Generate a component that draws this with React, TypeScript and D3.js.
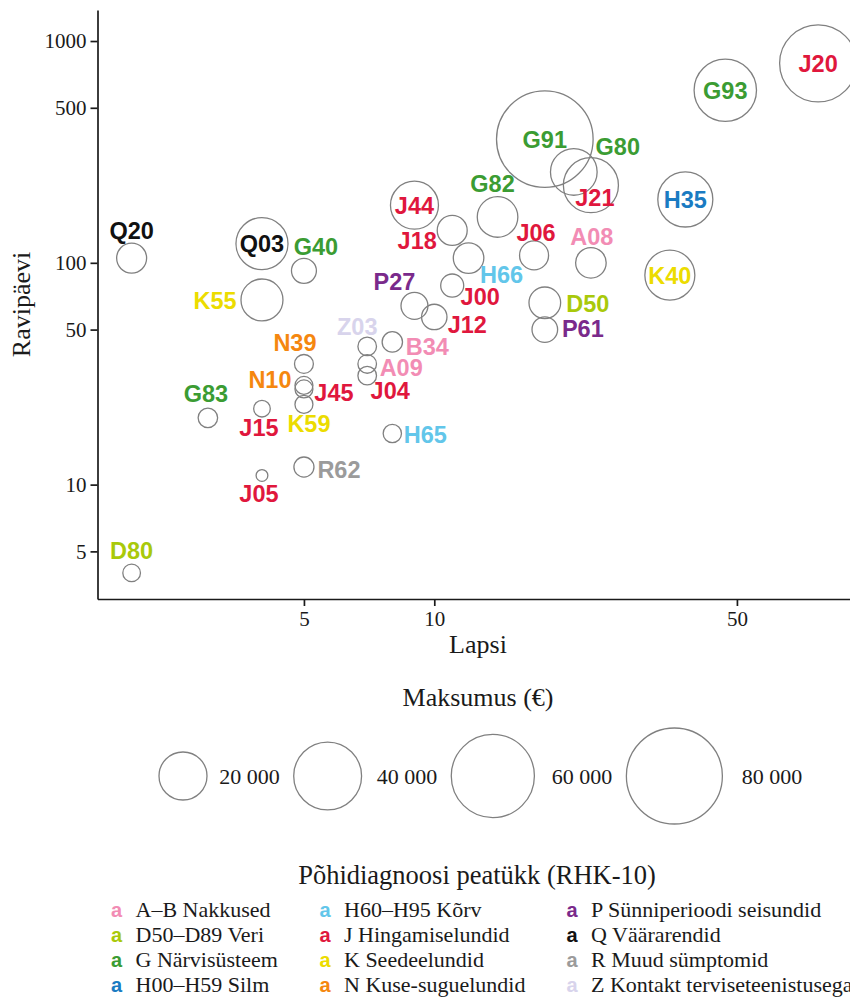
import React, { useEffect, useRef } from 'react';
import * as d3 from 'd3';

// diagnoosid (RHK-10 kood), lapsed, ravipäevad, maksumus
const codes = ['J20', 'G93', 'G91', 'G80', 'J21', 'H35', 'J44', 'G82', 'Q03', 'J18', 'J06', 'Q20',
  'A08', 'H66', 'G40', 'K40', 'K55', 'J00', 'D50', 'P27', 'J12', 'P61', 'B34', 'Z03',
  'A09', 'N39', 'J04', 'N10', 'J45', 'K59', 'J15', 'G83', 'H65', 'R62', 'J05', 'D80'];
const lapsi = [77, 47, 18, 21, 23, 38, 9, 14, 4, 11, 17, 2,
  23, 12, 5, 35, 4, 11, 18, 9, 10, 18, 8, 7,
  7, 5, 7, 5, 5, 5, 4, 3, 8, 5, 4, 2];
const ravipaevi = [793, 600, 361, 257, 224, 193, 182, 161, 122, 140, 108, 105,
  100, 105, 92, 88, 68, 79, 66, 64, 57, 50, 44, 42,
  35, 35, 31, 28, 27, 23, 22, 20, 17, 12, 11, 4];
const maksumus = [51500, 33800, 81000, 18900, 26300, 26300, 20000, 14300, 23500, 7800, 7300, 7800,
  8100, 8100, 5400, 21700, 15300, 4600, 8700, 6300, 5600, 5700, 3600, 3000,
  3000, 3100, 3000, 2800, 2800, 2800, 2400, 3300, 2900, 3500, 1200, 2700];
const peatykk = ['J', 'G', 'G', 'G', 'J', 'H1', 'J', 'G', 'Q', 'J', 'J', 'Q',
  'AB', 'H2', 'G', 'K', 'K', 'J', 'D', 'P', 'J', 'P', 'AB', 'Z',
  'AB', 'N', 'J', 'N', 'J', 'K', 'J', 'G', 'H2', 'R', 'J', 'D'];

const chapterKeys = ['AB', 'D', 'G', 'H1', 'H2', 'J', 'K', 'N', 'P', 'Q', 'R', 'Z'];
const chapterNames = ['A–B Nakkused', 'D50–D89 Veri', 'G Närvisüsteem', 'H00–H59 Silm',
  'H60–H95 Kõrv', 'J Hingamiselundid', 'K Seedeelundid', 'N Kuse-suguelundid',
  'P Sünniperioodi seisundid', 'Q Väärarendid', 'R Muud sümptomid', 'Z Kontakt terviseteenistusega'];
const chapterColors = ['#f28cb4', '#a9c90a', '#3b9c33', '#1a7bc2', '#62c6ea', '#e0173d',
  '#ecdc00', '#f5870f', '#7a2a8b', '#111111', '#9b9b9b', '#d8d4ec'];

const yTicks = [5, 10, 50, 100, 500, 1000];
const xTicks = [5, 10, 50];
const sizeBreaks = [20000, 40000, 60000, 80000];

// label placement (ggrepel-like nudges, px)
const labelNudge: Record<string, [number, number]> = {
  Q20: [0, -28], Q03: [0, 0], G40: [12, -24], K55: [-47, 1], J44: [0, 0], J18: [-35, 10],
  G82: [-5, -33], G91: [0, 0], G80: [44, -25], J21: [4, 12], G93: [0, 0], J20: [0, 0],
  H35: [0, 0], K40: [0, 0], J06: [2, -23], A08: [1, -26], H66: [33, 16], J00: [28, 11],
  P27: [-20, -24], D50: [43, 1], P61: [38, -1], J12: [33, 8], Z03: [-10, -20], B34: [35, 5],
  A09: [34, 4], J04: [23, 15], N39: [-9, -21], N10: [-34, -6], J45: [30, 4], K59: [5, 19],
  J15: [-3, 19], G83: [-2, -24], H65: [33, 1], R62: [35, 2], J05: [-3, 18], D80: [0, -22],
};

const serif = '"Liberation Serif", "Times New Roman", serif';
const sans = '"Liberation Sans", Arial, sans-serif';

export default function App() {
  const ref = useRef<SVGSVGElement>(null);

  useEffect(() => {
    const svg = d3.select(ref.current);
    svg.selectAll('*').remove();

    const left = 97.5, right = 852, top = 10, bottom = 599;

    const x = d3.scaleLog().domain([1.668, 92.2]).range([left, right]);
    const y = d3.scaleLog().domain([3.05, 1380]).range([bottom, top]);
    const r = d3.scaleSqrt().domain([0, 80000]).range([0, 48]);
    const color = d3.scaleOrdinal<string, string>().domain(chapterKeys).range(chapterColors);

    const data = codes.map((c, i) => ({
      code: c, x: lapsi[i], y: ravipaevi[i], cost: maksumus[i], ch: peatykk[i],
    }));

    // axes
    const gy = svg.append('g')
      .attr('transform', `translate(${left},0)`)
      .call(d3.axisLeft(y).tickValues(yTicks).tickFormat(d3.format('d')).tickSize(7).tickSizeOuter(0).tickPadding(4));
    const gx = svg.append('g')
      .attr('transform', `translate(0,${bottom})`)
      .call(d3.axisBottom(x).tickValues(xTicks).tickFormat(d3.format('d')).tickSize(7).tickSizeOuter(0).tickPadding(5));
    [gx, gy].forEach(g => {
      g.select('.domain').attr('stroke', '#1a1a1a').attr('stroke-width', 1.7);
      g.selectAll('.tick line').attr('stroke', '#1a1a1a').attr('stroke-width', 1.7);
      g.selectAll('.tick text').attr('font-family', serif).attr('font-size', 21).attr('fill', '#1a1a1a');
    });

    svg.append('text')
      .attr('transform', `translate(30,${(top + bottom) / 2}) rotate(-90)`)
      .attr('text-anchor', 'middle')
      .attr('font-family', serif).attr('font-size', 26).attr('fill', '#1a1a1a')
      .text('Ravipäevi');
    svg.append('text')
      .attr('x', 478).attr('y', 653)
      .attr('text-anchor', 'middle')
      .attr('font-family', serif).attr('font-size', 26).attr('fill', '#1a1a1a')
      .text('Lapsi');

    // bubbles
    svg.append('g').selectAll('circle')
      .data(data).join('circle')
      .attr('cx', d => x(d.x)).attr('cy', d => y(d.y)).attr('r', d => r(d.cost))
      .attr('fill', 'none').attr('stroke', '#808080').attr('stroke-width', 1.3);

    svg.append('g').selectAll('text')
      .data(data).join('text')
      .attr('x', d => x(d.x) + labelNudge[d.code][0])
      .attr('y', d => y(d.y) + labelNudge[d.code][1])
      .attr('dy', '0.36em')
      .attr('text-anchor', 'middle')
      .attr('font-family', sans).attr('font-weight', 'bold').attr('font-size', 23.5)
      .attr('fill', d => color(d.ch))
      .text(d => d.code);

    // size legend
    svg.append('text')
      .attr('x', 478).attr('y', 706)
      .attr('text-anchor', 'middle')
      .attr('font-family', serif).attr('font-size', 26).attr('fill', '#1a1a1a')
      .text('Maksumus (€)');

    const sizeG = svg.append('g');
    let cursor = 159;
    const legendY = 776;
    sizeBreaks.forEach(v => {
      const rr = r(v);
      sizeG.append('circle')
        .attr('cx', cursor + rr).attr('cy', legendY).attr('r', rr)
        .attr('fill', 'none').attr('stroke', '#808080').attr('stroke-width', 1.3);
      const lx = cursor + 2 * rr + 5 + rr * 0.3;
      const t = sizeG.append('text')
        .attr('x', lx).attr('y', legendY).attr('dy', '0.35em')
        .attr('font-family', serif).attr('font-size', 22).attr('fill', '#1a1a1a')
        .text(d3.format(',')(v).replace(',', ' '));
      const w = (t.node() as SVGTextElement).getComputedTextLength();
      cursor = lx + w + 14;
    });

    // colour legend
    svg.append('text')
      .attr('x', 477).attr('y', 884)
      .attr('text-anchor', 'middle')
      .attr('font-family', serif).attr('font-size', 26.5).attr('fill', '#1a1a1a')
      .text('Põhidiagnoosi peatükk (RHK-10)');

    const colX = [135.5, 344, 591];
    const items = svg.append('g').selectAll('g')
      .data(chapterNames).join('g')
      .attr('transform', (_, i) => `translate(${colX[Math.floor(i / 4)]},${917 + (i % 4) * 25})`);
    items.append('text')
      .attr('x', -19).attr('text-anchor', 'middle')
      .attr('font-family', sans).attr('font-weight', 'bold').attr('font-size', 20)
      .attr('fill', (_, i) => chapterColors[i])
      .text('a');
    items.append('text')
      .attr('font-family', serif).attr('font-size', 22).attr('fill', '#1a1a1a')
      .text(d => d);
  }, []);

  return (
    <svg ref={ref} width={850} height={997}
      style={{ position: 'absolute', left: 0, top: 0, background: '#fff' }} />
  );
}
